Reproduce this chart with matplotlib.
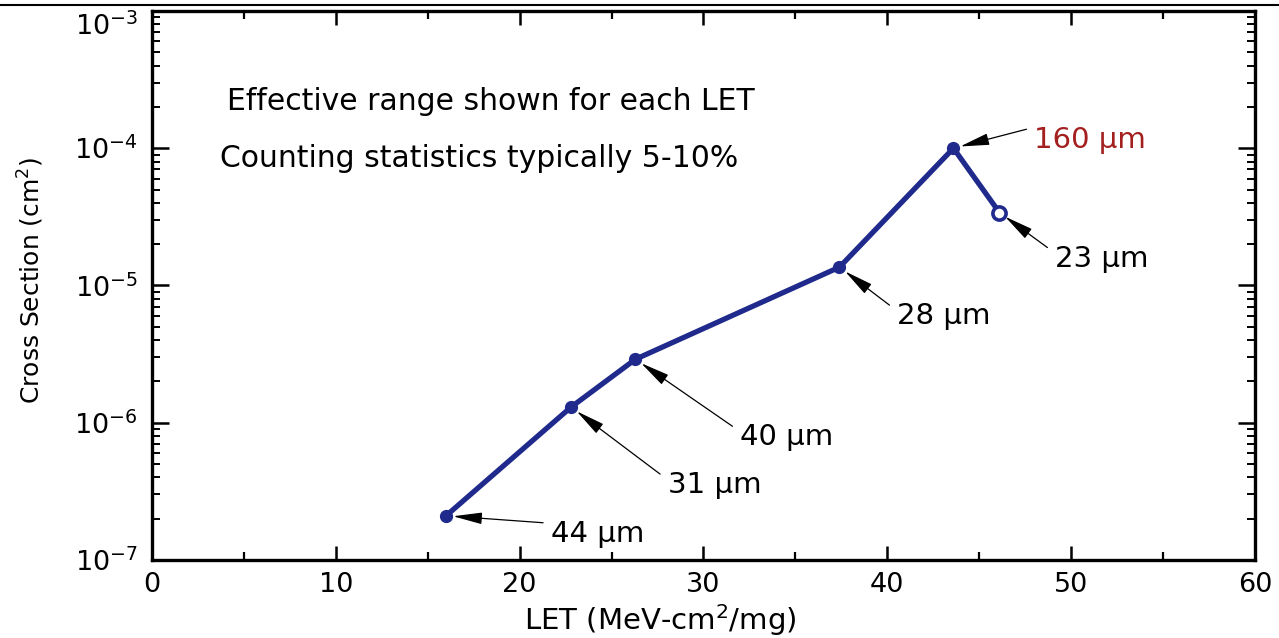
import numpy as np
import matplotlib
matplotlib.use("Agg")
import matplotlib.pyplot as plt
from matplotlib.ticker import MultipleLocator, LogLocator, NullFormatter, FixedLocator
from matplotlib.transforms import ScaledTranslation
from matplotlib.lines import Line2D

# data
let = [16.0, 22.8, 26.3, 37.4, 43.6, 46.1]
cross_section = [2.1e-7, 1.3e-6, 2.9e-6, 1.36e-5, 1.0e-4, 3.4e-5]
ranges = ['44 µm', '31 µm', '40 µm', '28 µm', '160 µm', '23 µm']
label_colors = ['black', 'black', 'black', 'black', '#a3201e', 'black']
y_decades = [-7, -6, -5, -4, -3]

# label placement (offset of text baseline-left from the point, pixels)
label_dx = [105, 97, 105, 58, 81, 56]
label_dy = [-26, -86, -86, -57, 0, -54]

line_color = '#1f2a8c'

fig = plt.figure(figsize=(12.79, 6.38), dpi=100)
ax = fig.add_axes([0.1188, 0.1223, 0.8624, 0.8605])

ax.plot(let, cross_section, color=line_color, lw=3.8, zorder=3)
ax.plot(let[:-1], cross_section[:-1], 'o', color=line_color, ms=8.5, zorder=4)
ax.plot(let[-1:], cross_section[-1:], 'o', mfc='white', mec=line_color,
        mew=2.6, ms=9.5, zorder=4)

for x, y, lab, c, dx, dy in zip(let, cross_section, ranges, label_colors, label_dx, label_dy):
    ax.annotate('', xy=(x, y), xytext=(dx - 8, dy + 19), textcoords='offset pixels',
                arrowprops=dict(arrowstyle='-|>,head_length=0.9,head_width=0.18',
                                color='black', lw=0.9, mutation_scale=20,
                                shrinkA=0, shrinkB=5), zorder=5)
    ax.annotate(lab, xy=(x, y), xytext=(dx, dy), textcoords='offset pixels',
                ha='left', va='baseline', fontsize=21, color=c)

ax.text(0.068, 0.820, 'Effective range shown for each LET', transform=ax.transAxes,
        fontsize=21.5, va='baseline', ha='left')
ax.text(0.0617, 0.716, 'Counting statistics typically 5-10%', transform=ax.transAxes,
        fontsize=21.5, va='baseline', ha='left')

ax.set_xlim(0, 60)
ax.set_yscale('log')
ax.set_ylim(1e-7, 1e-3)

ax.xaxis.set_major_locator(MultipleLocator(10))
ax.xaxis.set_minor_locator(MultipleLocator(5))
ax.set_yticks([10.0 ** d for d in y_decades],
              [r'$\mathregular{10^{%d}}$' % d for d in y_decades])
ax.yaxis.set_minor_locator(LogLocator(base=10, subs=np.arange(2, 10)))
ax.yaxis.set_minor_formatter(NullFormatter())

ax.tick_params(which='both', direction='in', top=True, right=True, labelsize=19.5)
ax.tick_params(axis='x', which='major', length=10, width=1.8, pad=9)
ax.tick_params(axis='x', which='minor', length=6, width=1.6)
ax.tick_params(axis='y', which='major', length=12, width=1.8, pad=10)
ax.tick_params(axis='y', which='minor', length=5.5, width=1.4)

# top decade label sits a little lower, as in the reference
top_lab = ax.yaxis.get_major_ticks()[-1].label1
top_lab.set_transform(top_lab.get_transform() + ScaledTranslation(0, -9 / 72, fig.dpi_scale_trans))

for sp in ax.spines.values():
    sp.set_linewidth(2.4)

fig.text(660 / 1279, 1 - 630 / 638, r'LET (MeV-cm$^{2}$/mg)', ha='center', va='baseline',
         fontsize=21)
fig.text(31 / 1279, 1 - 280 / 638, r'Cross Section (cm$^{2}$)', ha='center', va='center',
         rotation=90, fontsize=18)

# thin rule across the top of the slide
fig.add_artist(Line2D([0, 1], [1 - 5 / 638, 1 - 5 / 638], color='black', lw=1.5,
                      transform=fig.transFigure))

fig.savefig('out.png', dpi=100)
